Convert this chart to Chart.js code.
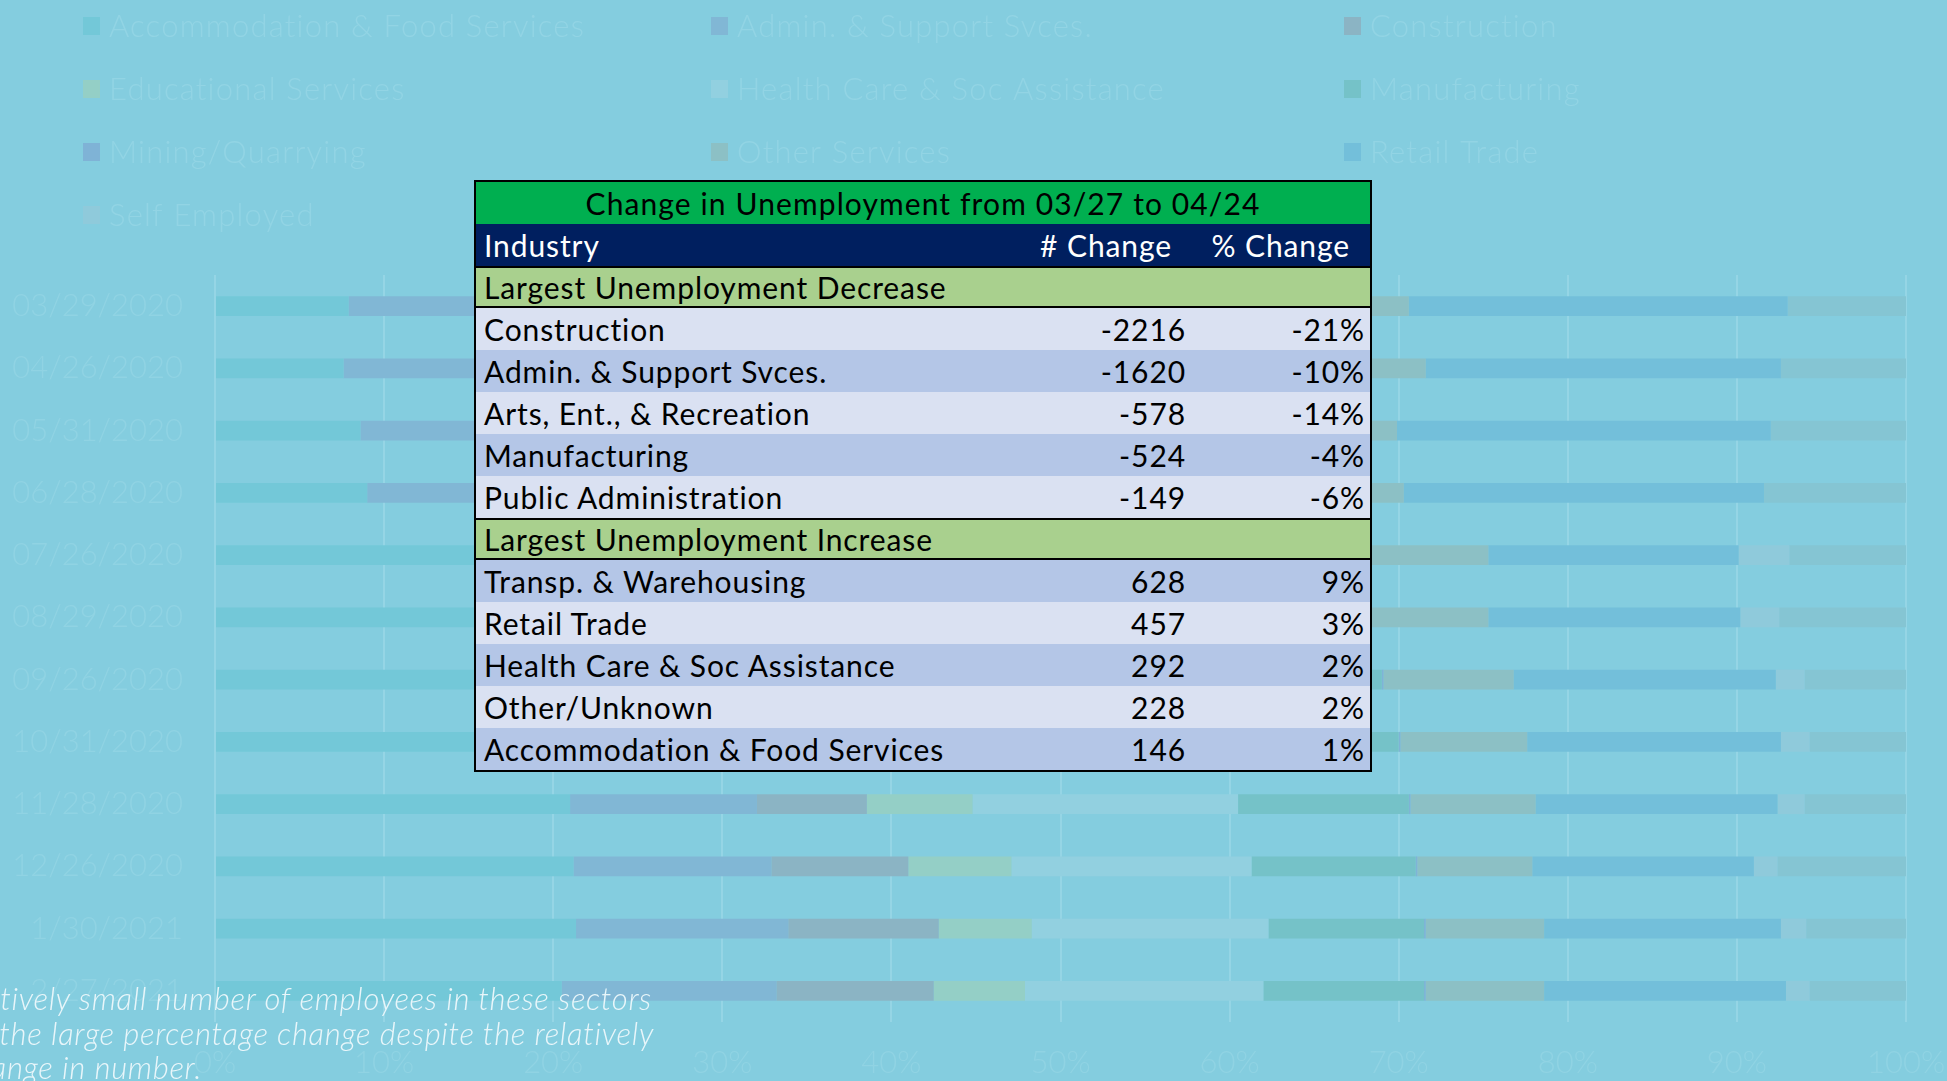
<!DOCTYPE html>
<html>
<head>
<meta charset="utf-8">
<script src="https://cdn.jsdelivr.net/npm/chart.js@4.4.1/dist/chart.umd.min.js"></script>
<style>
html,body{margin:0;padding:0;width:1947px;height:1081px;overflow:hidden;background:#84CDDF;}
#wrap{position:relative;width:1947px;height:1081px;overflow:hidden;}
#chart{position:absolute;left:0;top:0;}
#tbl{position:absolute;left:474px;top:180px;width:898px;height:592px;box-sizing:border-box;border:2px solid #000;font-family:Lato,"Open Sans",sans-serif;font-size:30px;letter-spacing:0.9px;color:#000;background:#DAE1F2;}
.r{position:absolute;left:0;width:894px;height:42px;line-height:42px;box-sizing:border-box;white-space:nowrap;}
.r span{position:absolute;top:0;}
.title{background:#00AF50;text-align:center;letter-spacing:1.1px;}
.head{background:#001F5F;color:#fff;}
.sec{background:#A9D08E;border-top:2px solid #000;border-bottom:2px solid #000;line-height:38px;}
.lt{background:#DAE1F2;}
.md{background:#B4C6E7;}
.note{position:absolute;font-family:Lato,"Open Sans",sans-serif;font-style:italic;font-weight:300;font-size:31px;letter-spacing:0.7px;color:#E9F6FA;white-space:nowrap;text-align:right;}
</style>
</head>
<body>
<div id="wrap">
<canvas id="chart" width="1947" height="1081"></canvas>
<div id="tbl"></div>
<div class="note" id="n1" style="right:1295px;top:979px;">The relatively small number of employees in these sectors</div>
<div class="note" id="n2" style="right:1293px;top:1014px;">explains the large percentage change despite the relatively</div>
<div class="note" id="n3" style="right:1745px;top:1048px;">small change in number.</div>
</div>
<script>
// ---- chart data ----
const dates = ['03/29/2020','04/26/2020','05/31/2020','06/28/2020','07/26/2020','08/29/2020','09/26/2020','10/31/2020','11/28/2020','12/26/2020','1/30/2021','2/27/2021'];
const xTickLabels = ['0%','10%','20%','30%','40%','50%','60%','70%','80%','90%','100%'];
const accommodation = [7.9, 7.6, 8.6, 9.0, 18.5, 19.5, 20.0, 20.5, 21.0, 21.2, 21.35, 20.5];
const adminSupport = [15.5, 14.6, 14.0, 13.5, 12.5, 12.0, 11.5, 11.3, 11.05, 11.7, 12.55, 12.7];
const construction = [14.5, 11.5, 11.0, 10.5, 8.5, 8.0, 7.0, 6.8, 6.5, 8.1, 8.9, 9.3];
const educational = [4.5, 5.0, 5.5, 6.0, 5.5, 5.5, 5.5, 6.0, 6.25, 6.1, 5.5, 5.4];
const healthCare = [12.5, 13.8, 13.5, 13.6, 13.5, 14.0, 14.5, 15.0, 15.7, 14.2, 14.0, 14.1];
const manufacturing = [9.5, 10.5, 10.0, 10.5, 7.6, 7.2, 10.5, 10.4, 10.1, 9.7, 9.2, 9.5];
const mining = [0.3, 0.3, 0.3, 0.3, 0.2, 0.1, 0.1, 0.1, 0.1, 0.1, 0.1, 0.1];
const otherServices = [5.9, 8.3, 7.0, 6.9, 9.0, 9.0, 7.7, 7.5, 7.4, 6.8, 7.0, 7.0];
const retailTrade = [22.4, 21.0, 22.1, 21.3, 14.8, 14.9, 15.5, 15.0, 14.3, 13.1, 14.0, 14.3];
const selfEmployed = [0, 0, 0, 0, 3.0, 2.3, 1.7, 1.7, 1.6, 1.4, 1.5, 1.4];
const transpWarehousing = [7.0, 7.4, 8.0, 8.4, 6.9, 7.5, 6.0, 5.7, 6.0, 7.6, 5.9, 5.7];

const seriesNames = ['Accommodation & Food Services','Admin. & Support Svces.','Construction','Educational Services','Health Care & Soc Assistance','Manufacturing','Mining/Quarrying','Other Services','Retail Trade','Self Employed','Transp. & Warehousing'];
const seriesValues = [accommodation, adminSupport, construction, educational, healthCare, manufacturing, mining, otherServices, retailTrade, selfEmployed, transpWarehousing];
const seriesColors = ['#73C8D8','#81B7D5','#8BB4C4','#94CFC6','#92D0E0','#75C2C8','#7FB3D6','#8CC0C5','#73BFDA','#8FCADB','#85C5D3'];

// ---- table data ----
const tableTitle = 'Change in Unemployment from 03/27 to 04/24';
const tableHeaders = ['Industry', '# Change', '% Change'];
const decreaseLabel = 'Largest Unemployment Decrease';
const decreaseIndustries = ['Construction','Admin. & Support Svces.','Arts, Ent., & Recreation','Manufacturing','Public Administration'];
const decreaseChange = [-2216, -1620, -578, -524, -149];
const decreasePct = [-21, -10, -14, -4, -6];
const increaseLabel = 'Largest Unemployment Increase';
const increaseIndustries = ['Transp. & Warehousing','Retail Trade','Health Care & Soc Assistance','Other/Unknown','Accommodation & Food Services'];
const increaseChange = [628, 457, 292, 228, 146];
const increasePct = [9, 3, 2, 2, 1];

// build table
(function(){
  const t = document.getElementById('tbl');
  const H = 42;
  let y = 0, k = 0;
  function row(cls, html){ const d=document.createElement('div'); d.className='r '+cls; d.style.top=y+'px'; d.innerHTML=html; t.appendChild(d); y+=H; }
  row('title', tableTitle);
  row('head', `<span style="left:8px">${tableHeaders[0]}</span><span style="right:198px">${tableHeaders[1]}</span><span style="right:20px">${tableHeaders[2]}</span>`);
  function section(label, names, ch, pct){
    row('sec', `<span style="left:8px">${label}</span>`);
    names.forEach((n,i)=>{
      row(k%2===0?'lt':'md', `<span style="left:8px">${n}</span><span style="right:184px">${ch[i]}</span><span style="right:5px">${pct[i]}%</span>`);
      k++;
    });
  }
  section(decreaseLabel, decreaseIndustries, decreaseChange, decreasePct);
  section(increaseLabel, increaseIndustries, increaseChange, increasePct);
})();

const faint = '#90D3E3';
const gridLegend = {
  id: 'gridLegend',
  afterDraw(chart, args, opts){
    const ctx = chart.ctx;
    ctx.save();
    ctx.font = opts.font;
    ctx.letterSpacing = opts.spacing;
    ctx.textBaseline = 'middle';
    ctx.textAlign = 'left';
    chart.data.datasets.forEach((ds, i) => {
      const col = i % opts.cols, r = Math.floor(i / opts.cols);
      const x = opts.colX[col], y = opts.rowY[r];
      ctx.fillStyle = ds.backgroundColor;
      ctx.fillRect(x, y - 9, 17, 18);
      ctx.fillStyle = opts.color;
      ctx.fillText(ds.label, x + 26, y + 1);
    });
    ctx.restore();
  }
};

new Chart(document.getElementById('chart'), {
  type: 'bar',
  data: {
    labels: dates,
    datasets: seriesNames.map((n, i) => ({
      label: n,
      data: seriesValues[i],
      backgroundColor: seriesColors[i],
      borderWidth: 0,
      barPercentage: 0.32,
      categoryPercentage: 1.0
    }))
  },
  options: {
    indexAxis: 'y',
    responsive: false,
    animation: false,
    layout: { padding: { top: 275, right: 41, bottom: 0, left: 0 } },
    plugins: {
      legend: { display: false },
      tooltip: { enabled: false },
      gridLegend: { cols: 3, colX: [83, 711, 1344], rowY: [26, 89, 152, 215], font: '300 31px Lato', spacing: '1.2px', color: '#92D4E4' }
    },
    scales: {
      x: {
        stacked: true, min: 0, max: 100,
        afterFit: s => { s.height = 59; s.paddingLeft = 0; s.paddingRight = 0; },
        ticks: { stepSize: 10, autoSkip: false, maxRotation: 0, padding: 22, color: faint, font: { family: 'Lato', size: 31, weight: '300' },
          callback: (v, i) => xTickLabels[i] },
        grid: { color: '#95D5E5', lineWidth: 2, drawTicks: false },
        border: { display: false }
      },
      y: {
        stacked: true,
        afterFit: s => { s.width = 215; s.paddingTop = 0; s.paddingBottom = 0; },
        ticks: { padding: 32, color: faint, font: { family: 'Lato', size: 31, weight: '300' } },
        grid: { display: false, drawTicks: false },
        border: { display: false }
      }
    }
  },
  plugins: [gridLegend]
});
</script>
</body>
</html>
